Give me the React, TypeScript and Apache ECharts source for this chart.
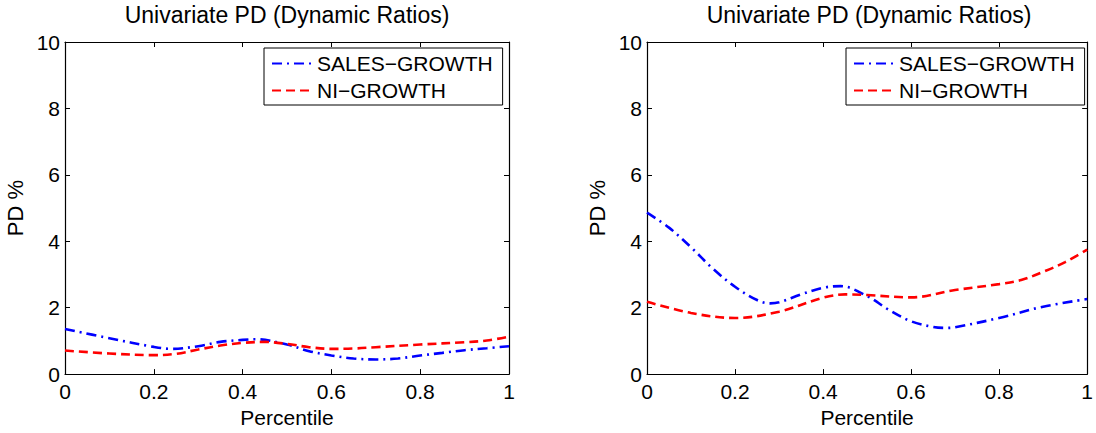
import React, { useEffect, useRef } from "react";
import * as echarts from "echarts";

const TITLE = "Univariate PD (Dynamic Ratios)";
const X_NAME = "Percentile";
const Y_NAME = "PD %";
const SALES = "SALES\u2212GROWTH";
const NI = "NI\u2212GROWTH";

// Left panel
const leftSalesX = [0, 0.1, 0.2, 0.24, 0.3, 0.35, 0.4, 0.43, 0.5, 0.55, 0.6, 0.65, 0.7, 0.75, 0.8, 0.85, 0.9, 0.95, 1.0];
const leftSalesY = [1.36, 1.08, 0.82, 0.76, 0.84, 0.97, 1.03, 1.05, 0.89, 0.69, 0.56, 0.47, 0.44, 0.47, 0.56, 0.64, 0.72, 0.78, 0.84];
const leftNiX = [0, 0.1, 0.2, 0.25, 0.3, 0.35, 0.4, 0.45, 0.5, 0.55, 0.6, 0.65, 0.7, 0.8, 0.9, 0.95, 1.0];
const leftNiY = [0.71, 0.62, 0.57, 0.61, 0.74, 0.86, 0.94, 0.97, 0.91, 0.81, 0.76, 0.77, 0.81, 0.89, 0.96, 1.01, 1.13];

// Right panel
const rightSalesX = [0, 0.05, 0.1, 0.15, 0.2, 0.25, 0.28, 0.3, 0.35, 0.4, 0.44, 0.5, 0.55, 0.6, 0.65, 0.68, 0.7, 0.8, 0.9, 1.0];
const rightSalesY = [4.86, 4.41, 3.82, 3.17, 2.63, 2.23, 2.13, 2.16, 2.4, 2.6, 2.65, 2.35, 1.93, 1.59, 1.42, 1.39, 1.41, 1.69, 2.03, 2.26];
const rightNiX = [0, 0.1, 0.2, 0.3, 0.4, 0.45, 0.5, 0.6, 0.7, 0.8, 0.85, 0.9, 0.95, 1.0];
const rightNiY = [2.18, 1.84, 1.69, 1.88, 2.3, 2.4, 2.38, 2.31, 2.53, 2.71, 2.83, 3.08, 3.37, 3.75];

const FONT = "Liberation Sans, Arial, Helvetica, sans-serif";

const pairs = (xs: number[], ys: number[]) => xs.map((x, i) => [x, ys[i]]);

export default function App() {
  const ref = useRef<HTMLDivElement>(null);
  useEffect(() => {
    if (!ref.current) return;
    const chart = echarts.init(ref.current, undefined, { renderer: "svg" });
    const grids = [
      { left: 65, right: 1096 - 509, top: 42, bottom: 433 - 378 },
      { left: 647, right: 1096 - 1091, top: 42, bottom: 433 - 378 },
    ];
    const centers = [(65 + 509) / 2, (647 + 1091) / 2];
    const axisLine = { show: true, onZero: false, lineStyle: { color: "#000", width: 1.2 } };
    const tick = { show: true, inside: true, length: 5, lineStyle: { color: "#000" } };
    const xAxes: any[] = [];
    const yAxes: any[] = [];
    [0, 1].forEach((g) => {
      xAxes.push({
        type: "value", gridIndex: g, min: 0, max: 1, interval: 0.2, position: "bottom",
        axisLine, axisTick: tick, splitLine: { show: false },
        axisLabel: { fontSize: 21, color: "#000", fontFamily: FONT, margin: 7 },
        name: X_NAME, nameLocation: "middle", nameGap: 27,
        nameTextStyle: { fontSize: 21, color: "#000", fontFamily: FONT },
      });
      xAxes.push({
        type: "value", gridIndex: g, min: 0, max: 1, interval: 0.2, position: "top",
        axisLine, axisTick: tick, splitLine: { show: false }, axisLabel: { show: false },
      });
      yAxes.push({
        type: "value", gridIndex: g, min: 0, max: 10, interval: 2, position: "left",
        axisLine, axisTick: tick, splitLine: { show: false },
        axisLabel: { fontSize: 21, color: "#000", fontFamily: FONT, margin: 5 },
        name: Y_NAME, nameLocation: "middle", nameGap: 39,
        nameTextStyle: { fontSize: 22, color: "#000", fontFamily: FONT },
      });
      yAxes.push({
        type: "value", gridIndex: g, min: 0, max: 10, interval: 2, position: "right",
        axisLine, axisTick: tick, splitLine: { show: false }, axisLabel: { show: false },
      });
    });
    const salesStyle = { color: "#0000ff", width: 2.6, type: [10, 5, 2, 5] };
    const niStyle = { color: "#ff0000", width: 2.6, type: [9, 5] };
    const mk = (name: string, g: number, data: number[][], ls: any) => ({
      name, type: "line", xAxisIndex: g * 2, yAxisIndex: g * 2, data,
      smooth: 0.35, symbol: "none", showSymbol: false, lineStyle: ls,
      itemStyle: { color: ls.color }, z: 3,
    });
    const legendBase = (left: number) => ({
      left, top: 48, orient: "vertical",
      data: [SALES, NI],
      padding: [5, 10, 4, 7], itemWidth: 40, itemHeight: 14, itemGap: 6,
      borderColor: "#000", borderWidth: 1, backgroundColor: "#fff", borderRadius: 0,
      itemStyle: { opacity: 0 },
      textStyle: { fontSize: 21, color: "#000", fontFamily: FONT, lineHeight: 21 },
      selectedMode: false,
    });
    chart.setOption({
      animation: false,
      backgroundColor: "#fff",
      title: [0, 1].map((g) => ({
        text: TITLE, left: centers[g], textAlign: "center", top: 3, padding: 0,
        textStyle: { fontSize: 23, fontWeight: "normal", color: "#000", fontFamily: FONT },
      })),
      legend: [legendBase(264), legendBase(846)],
      grid: grids,
      xAxis: xAxes,
      yAxis: yAxes,
      series: [
        mk(SALES, 0, pairs(leftSalesX, leftSalesY), salesStyle),
        mk(NI, 0, pairs(leftNiX, leftNiY), niStyle),
        mk(SALES, 1, pairs(rightSalesX, rightSalesY), salesStyle),
        mk(NI, 1, pairs(rightNiX, rightNiY), niStyle),
      ],
    });
    return () => chart.dispose();
  }, []);
  return (
    <div
      ref={ref}
      style={{ position: "absolute", left: 0, top: 0, width: 1096, height: 433 }}
    />
  );
}
